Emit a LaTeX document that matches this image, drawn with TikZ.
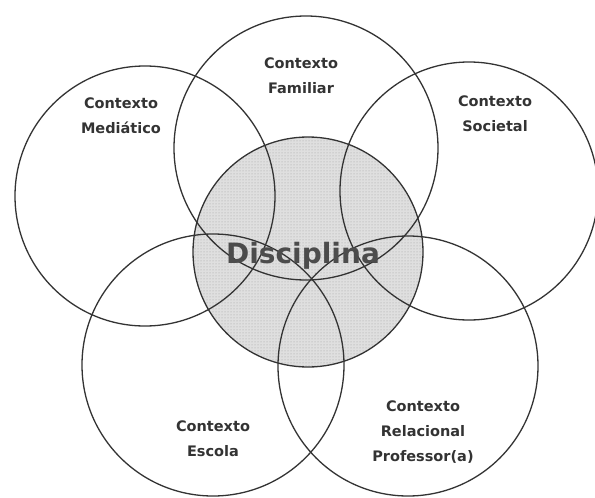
\documentclass[tikz,border=0pt]{standalone}
\usepackage{fontspec}
\setmainfont{DejaVu Sans}
\usetikzlibrary{patterns}
\begin{document}
\begin{tikzpicture}[x=1pt,y=-1pt,
  ring/.style={draw=black!80,line width=1.3pt},
  ctx/.style={align=center,font=\bfseries\fontsize{14.5}{25}\selectfont,text=black!80},
]
\useasboundingbox (0,0) rectangle (595,498);
\fill[white] (0,0) rectangle (595,498);
% central circle fill
\fill[gray!25] (308,252) circle (115);
\fill[pattern=dots,pattern color=gray!75] (308,252) circle (115);
% circles
\draw[ring] (145,196) circle (130) node[coordinate] (cm) {};
\draw[ring] (306,148) circle (132) node[coordinate] (cf) {};
\draw[ring] (469,191) circle (129) node[coordinate] (cs) {};
\draw[ring] (213,365) circle (131) node[coordinate] (ce) {};
\draw[ring] (408,366) circle (130) node[coordinate] (cr) {};
\draw[ring] (308,252) circle (115) node[coordinate] (cd) {};
% labels
\node[ctx] (tm) at (121,116) {Contexto\\Mediático};
\node[ctx] (tf) at (301,76) {Contexto\\Familiar};
\node[ctx] (ts) at (495,114) {Contexto\\Societal};
\node[ctx] (te) at (213,439) {Contexto\\Escola};
\node[ctx] (tr) at (423,432) {Contexto\\Relacional\\Professor(a)};
\node[font=\bfseries\fontsize{28}{30}\selectfont,text=black!70] (td) at (303,256) {Disciplina};
\end{tikzpicture}
\end{document}
